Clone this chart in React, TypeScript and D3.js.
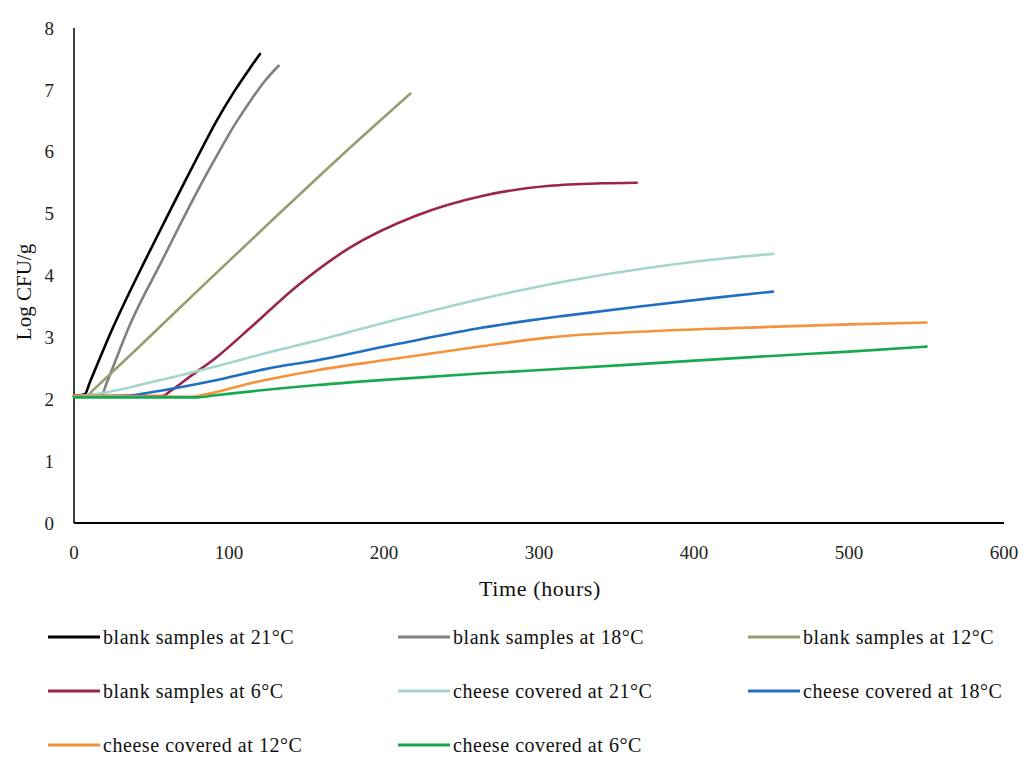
import React from "react";
import * as d3 from "d3";

const xTicks = [0, 100, 200, 300, 400, 500, 600];
const yTicks = [0, 1, 2, 3, 4, 5, 6, 7, 8];

const seriesNames = [
  "blank samples at 21°C",
  "blank samples at 18°C",
  "blank samples at 12°C",
  "blank samples at 6°C",
  "cheese covered at 21°C",
  "cheese covered at 18°C",
  "cheese covered at 12°C",
  "cheese covered at 6°C",
];
const seriesColors = ["#000000", "#808080", "#979d70", "#9b2450", "#a3d6cd", "#1f6fc1", "#f5923c", "#16a94e"];

const blank21T = [0, 7, 10, 25, 47, 59, 70.5, 81, 92, 103, 113.5, 120];
const blank21V = [2.05, 2.08, 2.26, 3.15, 4.3, 4.9, 5.47, 5.98, 6.5, 6.96, 7.35, 7.58];
const blank18T = [0, 18, 21, 36, 58, 70, 81, 92, 104, 114, 123, 132];
const blank18V = [2.05, 2.08, 2.26, 3.2, 4.3, 4.9, 5.43, 5.93, 6.45, 6.83, 7.14, 7.39];
const blank12T = [0, 9, 12, 40, 80, 126, 170, 217];
const blank12V = [2.05, 2.07, 2.14, 2.8, 3.76, 4.85, 5.88, 6.94];
const blank6T = [0, 57, 62, 75, 92, 114, 143, 178, 221, 264, 307, 340, 363];
const blank6V = [2.05, 2.05, 2.13, 2.37, 2.68, 3.16, 3.81, 4.45, 4.97, 5.29, 5.45, 5.49, 5.5];
const cheese21T = [0, 10, 49, 90, 126, 157, 210, 264, 320, 372, 410, 451];
const cheese21V = [2.05, 2.07, 2.27, 2.52, 2.76, 2.95, 3.3, 3.63, 3.92, 4.13, 4.25, 4.35];
const cheese18T = [0, 36, 49, 90, 126, 157, 210, 264, 320, 372, 410, 451];
const cheese18V = [2.05, 2.06, 2.11, 2.3, 2.5, 2.63, 2.9, 3.16, 3.36, 3.52, 3.63, 3.74];
const cheese12T = [0, 75, 85, 114, 157, 200, 264, 307, 372, 425, 500, 550];
const cheese12V = [2.05, 2.04, 2.08, 2.26, 2.47, 2.63, 2.86, 3.0, 3.1, 3.15, 3.21, 3.24];
const cheese6T = [0, 80, 90, 157, 210, 264, 320, 372, 450, 500, 550];
const cheese6V = [2.03, 2.03, 2.06, 2.23, 2.33, 2.42, 2.5, 2.58, 2.7, 2.77, 2.85];

const seriesT = [blank21T, blank18T, blank12T, blank6T, cheese21T, cheese18T, cheese12T, cheese6T];
const seriesV = [blank21V, blank18V, blank12V, blank6V, cheese21V, cheese18V, cheese12V, cheese6V];

const FONT = "'Liberation Serif', 'Times New Roman', serif";

export default function App() {
  const W = 1024;
  const H = 758;
  const x = d3.scaleLinear().domain([0, 600]).range([74, 1004]);
  const y = d3.scaleLinear().domain([0, 8]).range([523, 28]);
  const line = d3
    .line<[number, number]>()
    .x((d) => x(d[0]))
    .y((d) => y(d[1]))
    .curve(d3.curveMonotoneX);

  const legendCols = [48, 398, 748];
  const legendRows = [637, 691, 745];

  return (
    <svg width={W} height={H} style={{ position: "absolute", left: 0, top: 0, background: "#fff" }} fontFamily={FONT}>
      <rect width={W} height={H} fill="#fff" />
      <line x1={x(0)} x2={x(0)} y1={y(8)} y2={y(0)} stroke="#000" strokeWidth={1.5} />
      <line x1={x(0)} x2={x(600)} y1={y(0)} y2={y(0)} stroke="#000" strokeWidth={1.8} />
      {yTicks.map((t) => (
        <text key={"y" + t} x={54} y={y(t)} dy="0.35em" textAnchor="end" fontSize={19} fill="#222">
          {t}
        </text>
      ))}
      {xTicks.map((t) => (
        <text key={"x" + t} x={x(t)} y={552} dy="0.35em" textAnchor="middle" fontSize={19} fill="#222">
          {t}
        </text>
      ))}
      <text x={540} y={588} dy="0.35em" textAnchor="middle" fontSize={22} letterSpacing={0.6} fill="#111">
        Time (hours)
      </text>
      <text transform={`translate(24,${292}) rotate(-90)`} textAnchor="middle" dy="0.35em" fontSize={21} fill="#111">
        Log CFU/g
      </text>
      {seriesNames.map((name, i) => {
        const pts = seriesT[i].map((t, j) => [t, seriesV[i][j]] as [number, number]);
        return (
          <path key={name} d={line(pts) || ""} fill="none" stroke={seriesColors[i]} strokeWidth={2.6} strokeLinejoin="round" strokeLinecap="round" />
        );
      })}
      {seriesNames.map((name, i) => {
        const cx = legendCols[i % 3];
        const cy = legendRows[Math.floor(i / 3)];
        return (
          <g key={"l" + name}>
            <line x1={cx} x2={cx + 52} y1={cy} y2={cy} stroke={seriesColors[i]} strokeWidth={3} />
            <text x={cx + 55} y={cy} dy="0.33em" fontSize={20} letterSpacing={0.55} fill="#111">
              {name}
            </text>
          </g>
        );
      })}
    </svg>
  );
}
